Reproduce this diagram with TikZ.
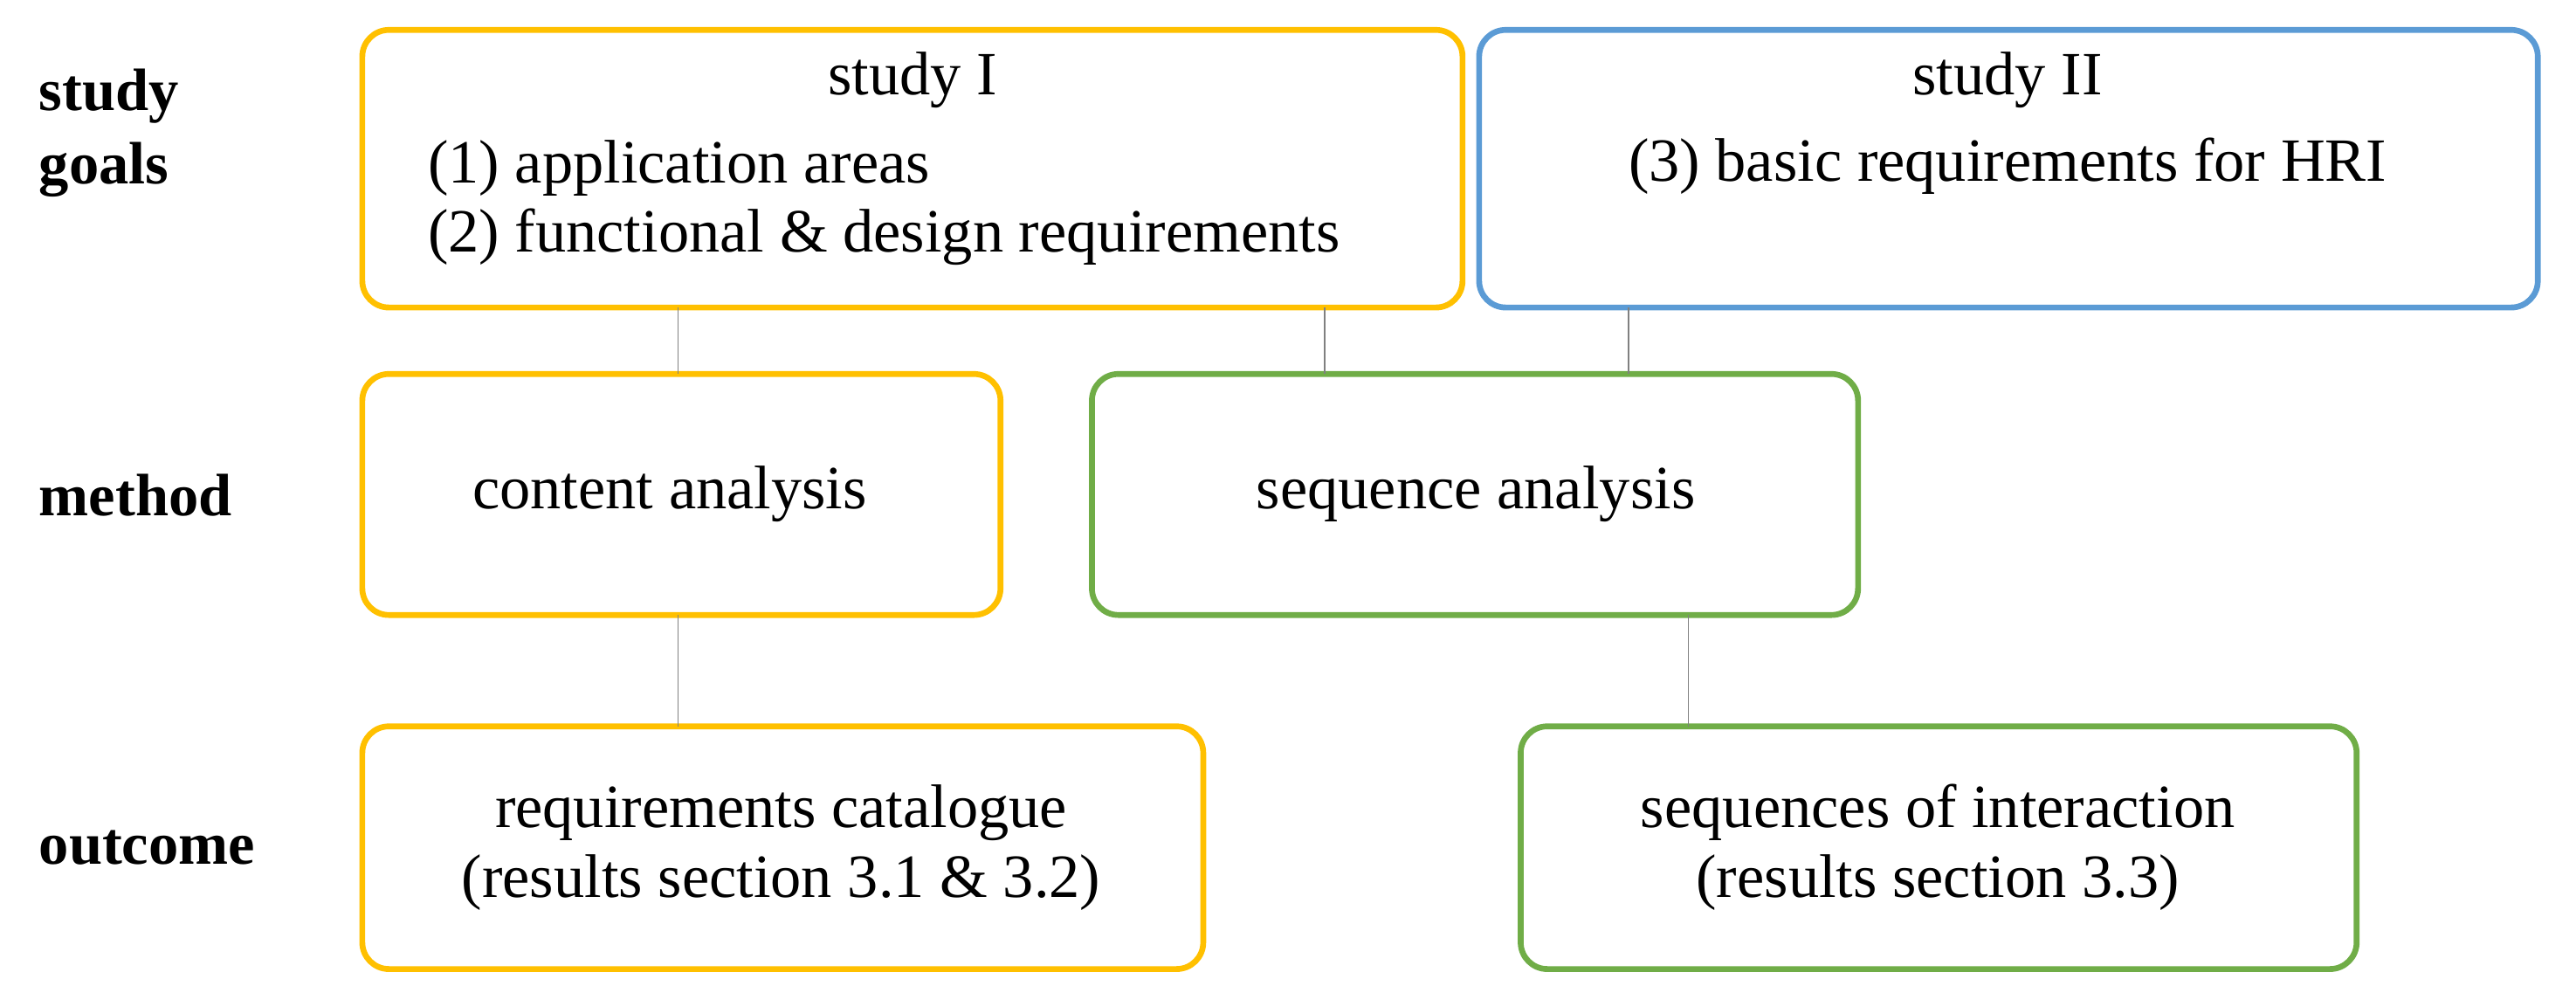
\documentclass[tikz,border=0pt]{standalone}
\usepackage{fontspec}
\setmainfont{Liberation Serif}
\begin{document}
\begin{tikzpicture}[x=1pt,y=-1pt,
 box/.style={draw,line width=3.5pt,rounded corners=16pt},
 lab/.style={anchor=west,font=\fontsize{36}{44}\selectfont\bfseries,align=left},
 txt/.style={font=\fontsize{37}{42}\selectfont,align=center},
 conn/.style={draw=gray,line width=0.8pt}]
\definecolor{yel}{HTML}{FFC000}\definecolor{blu}{HTML}{5B9BD5}\definecolor{grn}{HTML}{70AD47}
\useasboundingbox (0,0) rectangle (1550,593);
\draw[box,yel] (218,18) rectangle (880,185);
\draw[box,blu] (890,18) rectangle (1527,185);
\draw[box,yel] (218,225) rectangle (602,370);
\draw[box,grn] (657,225) rectangle (1118,370);
\draw[box,yel] (218,437) rectangle (724,583);
\draw[box,grn] (915,437) rectangle (1418,583);
\node[lab] (l1) at (20,80) {study\\goals};
\node[lab] (l2) at (20,298) {method};
\node[lab] (l3) at (20,510) {outcome};
\node[txt] (t1) at (549,48) {study I};
\node[txt,anchor=west,align=left] (t1b) at (254,122) {(1) application areas\\(2) functional \& design requirements};
\node[txt] (t2) at (1208,48) {study II};
\node[txt] (t2b) at (1208,100) {(3) basic requirements for HRI};
\node[txt] (m1) at (403,297) {content analysis};
\node[txt] (m2) at (888,297) {sequence analysis};
\node[txt] (o1) at (470,510) {requirements catalogue\\(results section 3.1 \& 3.2)};
\node[txt] (o2) at (1166,510) {sequences of interaction\\(results section 3.3)};
\coordinate (a1) at (408,185); \coordinate (a2) at (408,225);
\coordinate (b1) at (797,185); \coordinate (b2) at (797,225);
\coordinate (c1) at (980,185); \coordinate (c2) at (980,225);
\coordinate (d1) at (408,370); \coordinate (d2) at (408,437);
\coordinate (e1) at (1016,370); \coordinate (e2) at (1016,437);
\draw[conn] (a1)--(a2); \draw[conn] (b1)--(b2); \draw[conn] (c1)--(c2);
\draw[conn] (d1)--(d2); \draw[conn] (e1)--(e2);
\end{tikzpicture}
\end{document}
